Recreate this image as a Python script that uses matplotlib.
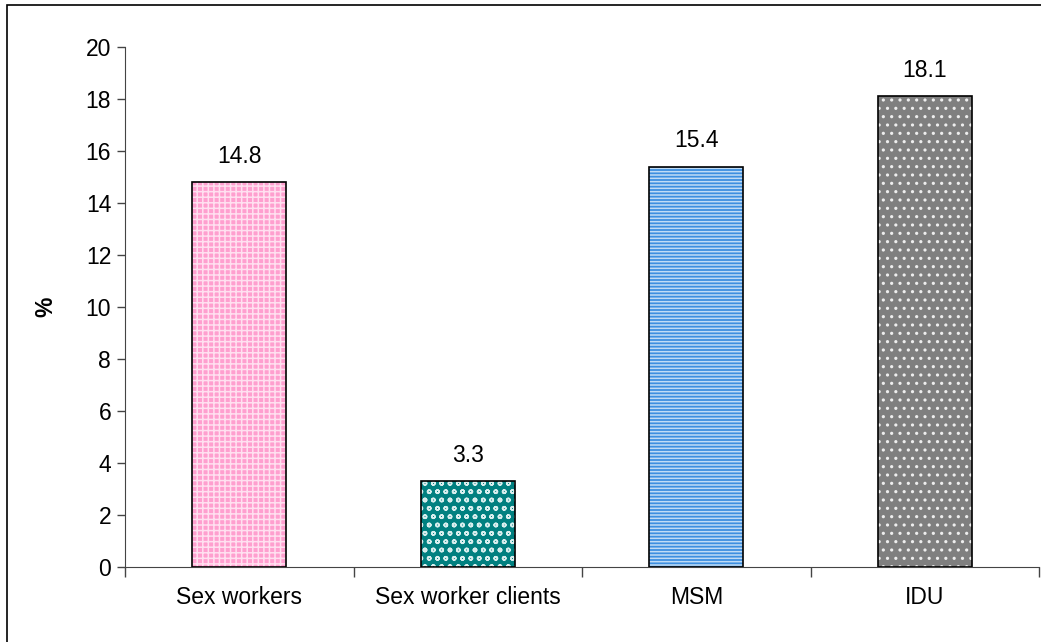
import matplotlib
matplotlib.use("Agg")
from matplotlib import pyplot as plt
from matplotlib.patches import Rectangle

plt.rcParams['font.family'] = ['Liberation Sans', 'DejaVu Sans']
plt.rcParams['hatch.linewidth'] = 1.1

categories = ["Sex workers", "Sex worker clients", "MSM", "IDU"]
values = [14.8, 3.3, 15.4, 18.1]
y_ticks = [0, 2, 4, 6, 8, 10, 12, 14, 16, 18, 20]

# fill colour, hatch colour, hatch pattern
face_colors = ['#FF9FCF', '#008080', '#3D8FE0', '#7F7F7F']
hatch_colors = ['#FFE0F0', '#D8EEEE', '#C0DCF6', '#EEEEEE']
hatches = ['+++', 'oo', '-----', '..']

fig = plt.figure(figsize=(10.41, 6.42), dpi=100)
ax = fig.add_axes([0.1201, 0.1168, 0.878, 0.81])

x = range(len(categories))
bar_width = 0.41
for i, (v, fc, hc, h) in enumerate(zip(values, face_colors, hatch_colors, hatches)):
    ax.bar(i, v, width=bar_width, color=fc, edgecolor=hc, hatch=h, linewidth=0, zorder=2)
    ax.bar(i, v, width=bar_width, facecolor='none', edgecolor='black', linewidth=1.2, zorder=3)
    ax.text(i, v + 0.55, f"{v:.1f}", ha='center', va='bottom', fontsize=16.5)

ax.set_xlim(-0.5, len(categories) - 0.5)
ax.set_ylim(0, 20)
ax.set_yticks(y_ticks)
ax.set_yticklabels([str(t) for t in y_ticks], fontsize=16.5)
ax.set_xticks(x)
ax.set_xticklabels(categories, fontsize=16.5)
ax.tick_params(axis='x', length=0, pad=14)
ax.set_xticks([i - 0.5 for i in range(len(categories) + 1)], minor=True)
ax.tick_params(axis='x', which='minor', length=7, width=1, color='#444444')
ax.tick_params(axis='y', length=6, width=1, color='#444444', pad=4)
ax.set_ylabel('%', fontsize=16.5, fontweight='bold', labelpad=20)

ax.spines['top'].set_visible(False)
ax.spines['right'].set_visible(False)
ax.spines['left'].set_color('#444444')
ax.spines['bottom'].set_color('#444444')

# outer frame of the chart area
fig.patches.append(Rectangle((7 / 1041, -0.1), 1.2, 1 - 5 / 642 + 0.1, transform=fig.transFigure,
                             fill=False, edgecolor='black', linewidth=1.2))

fig.savefig('out.png', dpi=100)
